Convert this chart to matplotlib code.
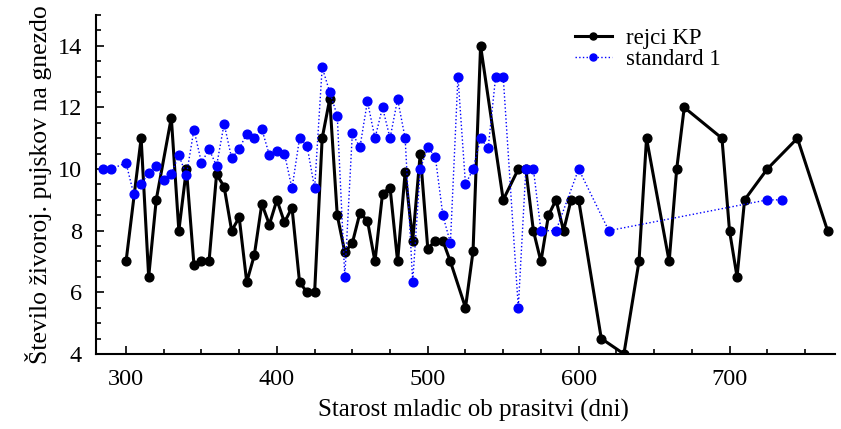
import matplotlib.pyplot as plt
from matplotlib.ticker import MultipleLocator

# rejci KP
kp_age = [300, 310, 315, 320, 330, 335, 340, 345, 350, 355, 360, 365, 370, 375, 380, 385, 390, 395, 400,
          405, 410, 415, 420, 425, 430, 435, 440, 445, 450, 455, 460, 465, 470, 475, 480, 485, 490, 495,
          500, 505, 510, 515, 525, 530, 535, 550, 560, 565, 570, 575, 580, 585, 590, 595, 600, 615, 630,
          640, 645, 660, 665, 670, 695, 700, 705, 710, 725, 745, 765]
kp_val = [7, 11, 6.5, 9, 11.67, 8, 10, 6.9, 7, 7, 9.83, 9.43, 8, 8.43, 6.33, 7.2, 8.87, 8.2, 9,
          8.27, 8.75, 6.33, 6, 6, 11, 12.27, 8.5, 7.3, 7.6, 8.57, 8.33, 7, 9.2, 9.4, 7, 9.9, 7.67, 10.5,
          7.42, 7.67, 7.67, 7, 5.5, 7.33, 14, 9, 10, 10, 8, 7, 8.5, 9, 8, 9, 9, 4.5, 4,
          7, 11, 7, 10, 12, 11, 8, 6.5, 9, 10, 11, 8]

# standard 1
st_age = [285, 290, 300, 305, 310, 315, 320, 325, 330, 335, 340, 345, 350, 355, 360, 365, 370, 375, 380,
          385, 390, 395, 400, 405, 410, 415, 420, 425, 430, 435, 440, 445, 450, 455, 460, 465, 470, 475,
          480, 485, 490, 495, 500, 505, 510, 515, 520, 525, 530, 535, 540, 545, 550, 560, 565, 570, 575,
          585, 600, 620, 725, 735]
st_val = [10, 10, 10.2, 9.2, 9.5, 9.88, 10.1, 9.63, 9.85, 10.45, 9.8, 11.28, 10.2, 10.65, 10.1, 11.47, 10.35, 10.65, 11.15,
          11, 11.3, 10.45, 10.6, 10.5, 9.37, 11, 10.75, 9.37, 13.3, 12.5, 11.73, 6.5, 11.17, 10.7, 12.2, 11, 12, 11,
          12.27, 11, 6.33, 10, 10.7, 10.4, 8.5, 7.6, 13, 9.5, 10, 11, 10.67, 13, 13, 5.5, 10, 10, 8,
          8, 10, 8, 9, 9]

plt.rcParams['font.family'] = ['Liberation Serif', 'DejaVu Serif']
plt.rcParams['font.size'] = 17.5

fig = plt.figure(figsize=(8.41, 4.29), dpi=100)
ax = fig.add_axes([0.114, 0.175, 0.879, 0.79])

ax.plot(kp_age, kp_val, color='black', lw=2.2, marker='o', ms=6.3, solid_joinstyle='miter', label='rejci KP')
ax.plot(st_age, st_val, color='blue', lw=1, ls=':', marker='o', ms=6.3, label='standard 1')

ax.set_xlim(280, 770)
ax.set_ylim(4, 15)
ax.xaxis.set_major_locator(MultipleLocator(100))
ax.xaxis.set_minor_locator(MultipleLocator(25))
ax.yaxis.set_major_locator(MultipleLocator(2))
ax.yaxis.set_minor_locator(MultipleLocator(0.5))
ax.tick_params(which='both', direction='in', top=False, right=False, width=1.2)
ax.tick_params(which='major', length=6)
ax.tick_params(which='minor', length=3.5)
ax.tick_params(axis='x', which='major', pad=11)
ax.tick_params(axis='y', which='major', pad=10)

for s in ['top', 'right']:
    ax.spines[s].set_visible(False)
for s in ['left', 'bottom']:
    ax.spines[s].set_linewidth(1.5)

ax.set_xlabel('Starost mladic ob prasitvi (dni)', fontsize=18, labelpad=6)
ax.xaxis.label.set_x(0.511)
ax.set_ylabel('Število živoroj. pujskov na gnezdo', fontsize=18.5, labelpad=4)

# legenda brez okvirja, zgoraj desno
ax.legend(loc='upper left', bbox_to_anchor=(0.648, 0.962), frameon=False, fontsize=16.5,
          handlelength=1.6, handletextpad=0.65, labelspacing=0.0, borderpad=0,
          borderaxespad=0, markerscale=0.8)

fig.savefig('out.png', dpi=100)
